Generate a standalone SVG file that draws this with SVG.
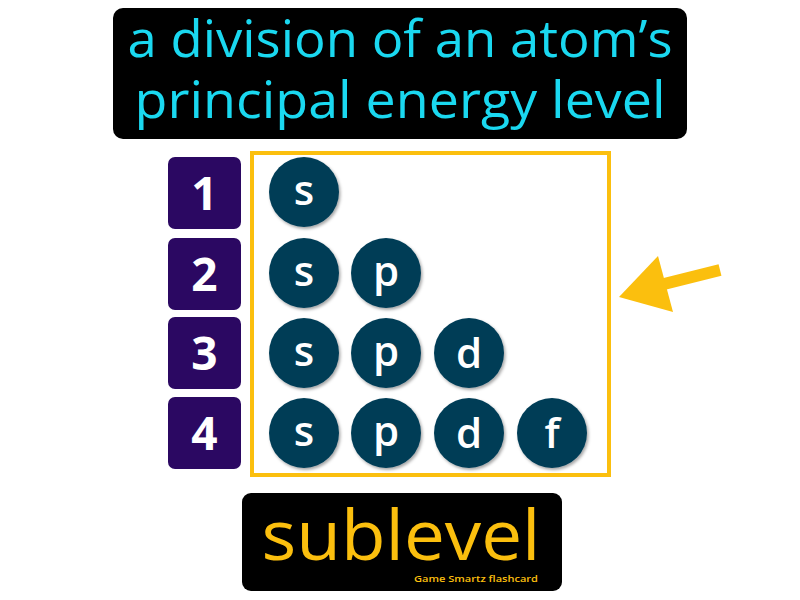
<svg xmlns="http://www.w3.org/2000/svg" width="800" height="600" viewBox="0 0 800 600">
<defs>
<filter id="sh" x="-20%" y="-20%" width="150%" height="150%"><feDropShadow dx="1.5" dy="2" stdDeviation="1.5" flood-color="#000" flood-opacity="0.35"/></filter>
<style>
.num{fill:#2b0862}
.numt{fill:#fff;font-family:"Open Sans",sans-serif;font-weight:bold;font-size:46px;text-anchor:middle}
.orb{fill:#053d57;filter:url(#sh)}
.orbt{fill:#fff;font-family:"Open Sans",sans-serif;font-weight:600;font-size:42px;text-anchor:middle}
.def{fill:#1ad8f0;font-family:"Open Sans",sans-serif;font-size:52px;text-anchor:middle}
</style>
</defs>
<rect width="800" height="600" fill="#fff"/>
<g id="definition">
<rect x="113" y="8" width="574" height="131" rx="10" fill="#000"/>
<text class="def" x="400" y="57" textLength="545" lengthAdjust="spacingAndGlyphs">a division of an atom’s</text>
<text class="def" x="400" y="118" textLength="531" lengthAdjust="spacingAndGlyphs">principal energy level</text>
</g>
<g id="levels">
<g id="level1"><rect class="num" x="168" y="157" width="73" height="72" rx="7"/><text class="numt" x="204.5" y="210">1</text></g>
<g id="level2"><rect class="num" x="168" y="238" width="73" height="72" rx="7"/><text class="numt" x="204.5" y="291">2</text></g>
<g id="level3"><rect class="num" x="168" y="317" width="73" height="72" rx="7"/><text class="numt" x="204.5" y="370">3</text></g>
<g id="level4"><rect class="num" x="168" y="397" width="73" height="72" rx="7"/><text class="numt" x="204.5" y="450">4</text></g>
</g>
<g id="frame"><rect x="252" y="153" width="357" height="322" fill="none" stroke="#fbbf0e" stroke-width="4"/></g>
<g id="orbitals">
<g id="o1s"><circle class="orb" cx="304" cy="192" r="35"/><text class="orbt" x="304" y="205">s</text></g>
<g id="o2s"><circle class="orb" cx="304" cy="273" r="35"/><text class="orbt" x="304" y="286">s</text></g>
<g id="o2p"><circle class="orb" cx="386" cy="273" r="35"/><text class="orbt" x="386" y="286">p</text></g>
<g id="o3s"><circle class="orb" cx="304" cy="353" r="35"/><text class="orbt" x="304" y="366">s</text></g>
<g id="o3p"><circle class="orb" cx="386" cy="353" r="35"/><text class="orbt" x="386" y="366">p</text></g>
<g id="o3d"><circle class="orb" cx="469" cy="353" r="35"/><text class="orbt" x="469" y="368">d</text></g>
<g id="o4s"><circle class="orb" cx="304" cy="433" r="35"/><text class="orbt" x="304" y="446">s</text></g>
<g id="o4p"><circle class="orb" cx="386" cy="433" r="35"/><text class="orbt" x="386" y="446">p</text></g>
<g id="o4d"><circle class="orb" cx="469" cy="433" r="35"/><text class="orbt" x="469" y="448">d</text></g>
<g id="o4f"><circle class="orb" cx="552" cy="433" r="35"/><text class="orbt" x="552" y="448">f</text></g>
</g>
<g id="connectors">
<line x1="720" y1="270" x2="660" y2="285" stroke="#fbbf0e" stroke-width="12"/>
<polygon points="619,297 658,256 673,312" fill="#fbbf0e"/>
</g>
<g id="term">
<rect x="242" y="493" width="320" height="98" rx="9" fill="#000"/>
<text x="401" y="560" fill="#fbbf0e" font-family="Open Sans,sans-serif" font-size="70" text-anchor="middle" textLength="279" lengthAdjust="spacingAndGlyphs">sublevel</text>
<text x="476" y="582" fill="#fbbf0e" font-family="Open Sans,sans-serif" font-weight="600" font-size="9" text-anchor="middle" textLength="124" lengthAdjust="spacingAndGlyphs">Game Smartz  flashcard</text>
</g>
</svg>
